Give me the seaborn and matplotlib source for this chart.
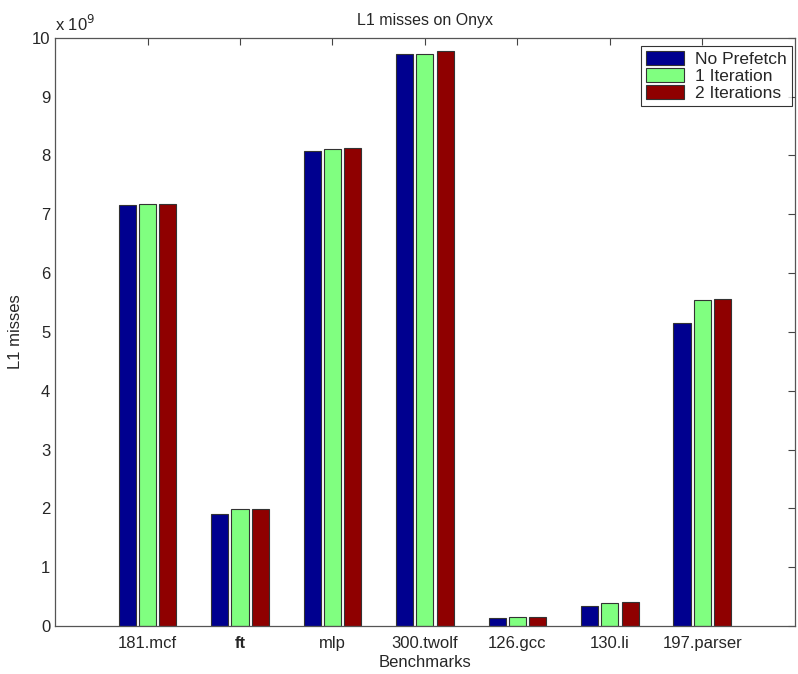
import matplotlib
matplotlib.use('Agg')
import matplotlib.pyplot as plt
import pandas as pd
import seaborn as sns

benchmarks = ['181.mcf', 'ft', 'mlp', '300.twolf', '126.gcc', '130.li', '197.parser']
no_prefetch = [7.16, 1.91, 8.08, 9.72, 0.14, 0.345, 5.16]
one_iter = [7.18, 1.99, 8.11, 9.72, 0.15, 0.40, 5.54]
two_iter = [7.18, 1.99, 8.13, 9.77, 0.16, 0.41, 5.56]
series = ['No Prefetch', '1 Iteration', '2 Iterations']
colors = ['#00008F', '#80FF80', '#8F0000']

rows = []
for name, vals in zip(series, [no_prefetch, one_iter, two_iter]):
  for b, v in zip(benchmarks, vals):
    rows.append({'bench': b, 'series': name, 'value': v})
df = pd.DataFrame(rows)

sns.set_style('white')
plt.rcParams['font.family'] = ['Liberation Sans', 'DejaVu Sans']

fig = plt.figure(figsize=(7.98, 6.74), dpi=100)
ax = fig.add_axes([0.069, 0.071, 0.927, 0.873])
sns.barplot(data=df, x='bench', y='value', hue='series', palette=colors,
            width=0.66, gap=0.16, edgecolor='#333333', linewidth=0.8,
            saturation=1, ax=ax, legend=True)

ax.set_xlim(-1, 7)
ax.set_ylim(0, 10)
ax.set_yticks(range(0, 11))
ax.set_xlabel('Benchmarks', fontsize=12, labelpad=3)
ax.set_ylabel('L1 misses', fontsize=12, labelpad=6)
ax.set_title('L1 misses on Onyx', fontsize=11.5, pad=9)
ax.tick_params(direction='in', length=5, top=True, right=True, labelsize=12,
               color='#444444')
ax.tick_params(axis='x', pad=7)
for lbl in ax.get_xticklabels():
  if lbl.get_text() == 'ft':
    lbl.set_fontweight('bold')
for s in ax.spines.values():
  s.set_color('#555555')
  s.set_linewidth(0.9)
ax.text(0.0, 1.006, 'x 10$^9$', transform=ax.transAxes, fontsize=12,
        ha='left', va='bottom')

leg = ax.legend(loc='upper right', fontsize=12.5, frameon=True, fancybox=False,
                edgecolor='black', handlelength=2.2, handleheight=0.85,
                borderpad=0.3, labelspacing=0.05, handletextpad=0.6,
                borderaxespad=0, bbox_to_anchor=(0.996, 0.986))
leg.get_frame().set_linewidth(0.8)

fig.savefig('out.png', dpi=100)
